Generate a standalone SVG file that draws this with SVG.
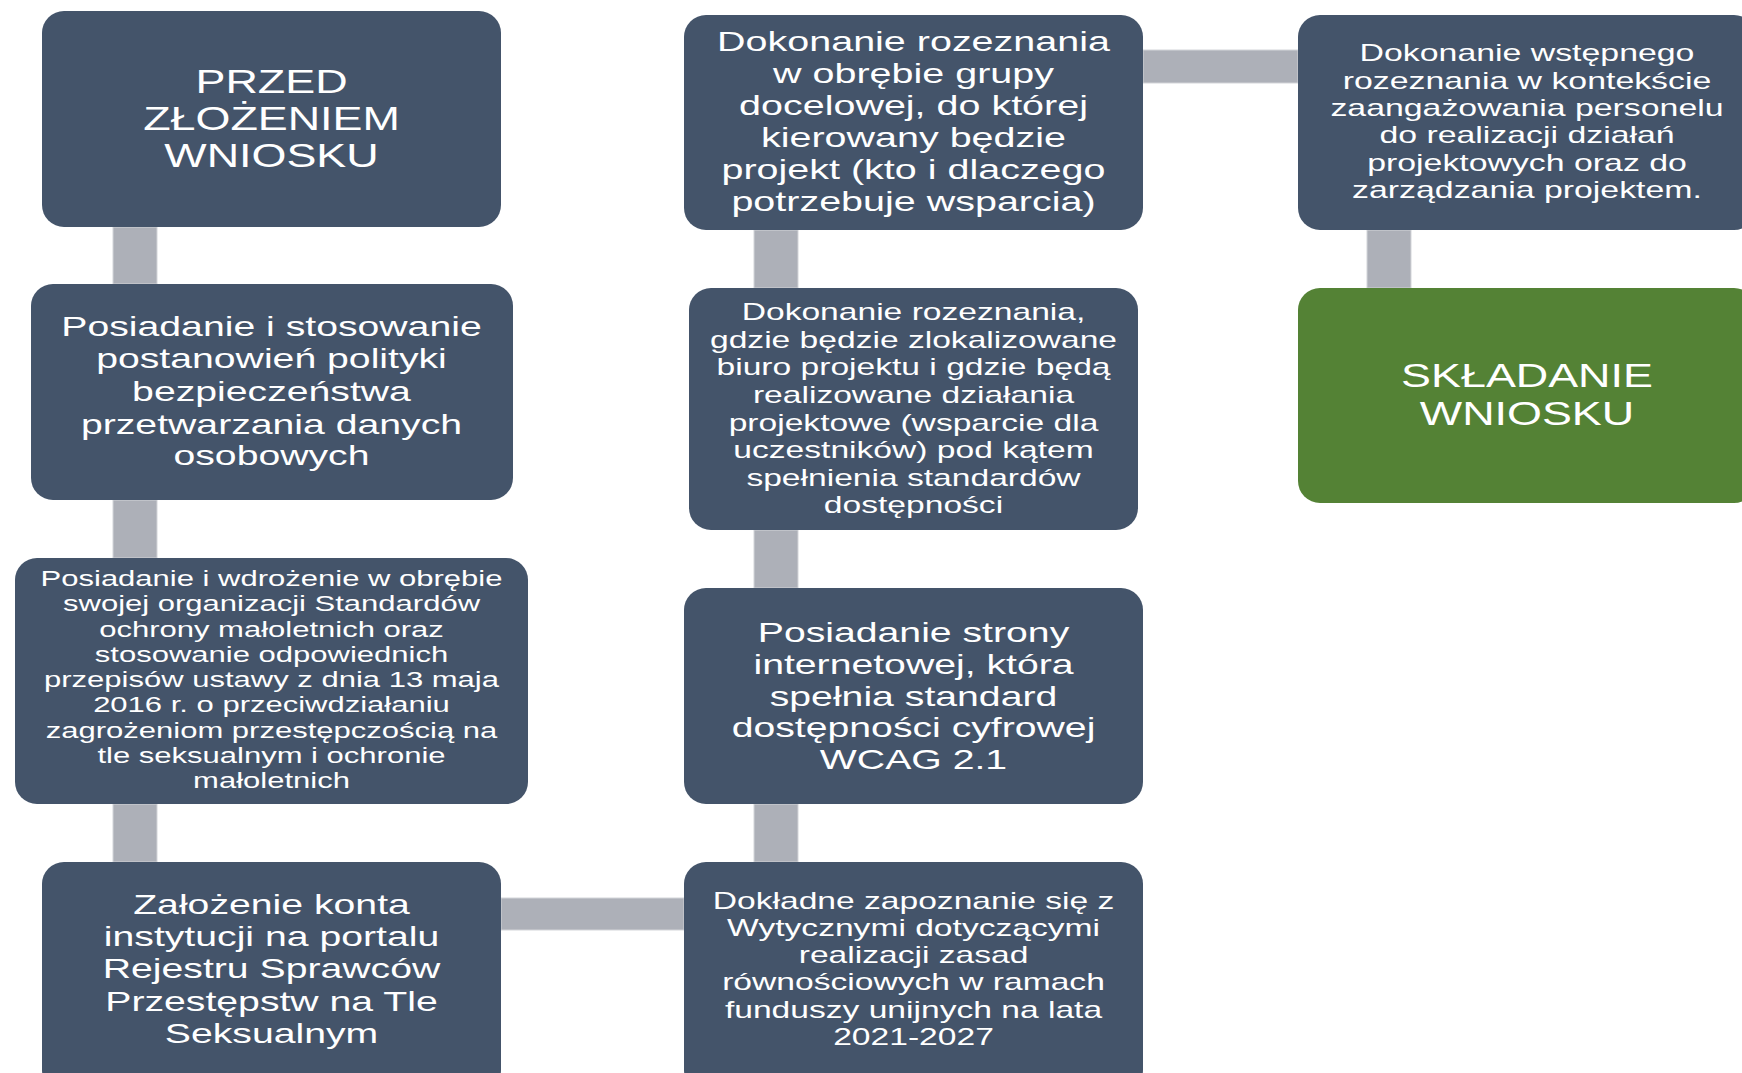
<svg xmlns="http://www.w3.org/2000/svg" width="1742" height="1073" viewBox="0 0 1742 1073">
<style>
.box{fill:#44546A;}
.green{fill:#548235;}
.con{fill:#ADB0B8;stroke:#D3D5D9;stroke-width:1;}
.t{fill:#FFFFFF;font-family:"Liberation Sans",Arial,sans-serif;text-anchor:middle;}
.f33{font-size:33px;}
.f28{font-size:28px;}
.f24{font-size:24px;}
.f22{font-size:22px;}
</style>
<rect width="1742" height="1073" fill="#FFFFFF"/>
<g id="connectors">
<rect class="con" x="113" y="227" width="44" height="57"/>
<rect class="con" x="113" y="500" width="44" height="58"/>
<rect class="con" x="113" y="804" width="44" height="58"/>
<rect class="con" x="501" y="898" width="183" height="32"/>
<rect class="con" x="754" y="230" width="44" height="58"/>
<rect class="con" x="754" y="530" width="44" height="58"/>
<rect class="con" x="754" y="804" width="44" height="58"/>
<rect class="con" x="1143" y="50" width="155" height="33"/>
<rect class="con" x="1367" y="230" width="44" height="58"/>
</g>
<g id="node-przed">
<rect class="box" x="42" y="11" width="459" height="216" rx="22"/>
<text class="t f33" transform="matrix(1.36 0 0 1 271.5 0)"><tspan x="0" y="93">PRZED</tspan><tspan x="0" y="130">ZŁOŻENIEM</tspan><tspan x="0" y="167">WNIOSKU</tspan></text>
</g>
<g id="node-polityka">
<rect class="box" x="31" y="284" width="482" height="216" rx="22"/>
<text class="t f28" transform="matrix(1.4 0 0 1 271.5 0)"><tspan x="0" y="335.7">Posiadanie i stosowanie</tspan><tspan x="0" y="368.5">postanowień polityki</tspan><tspan x="0" y="401.2">bezpieczeństwa</tspan><tspan x="0" y="433.9">przetwarzania danych</tspan><tspan x="0" y="465">osobowych</tspan></text>
</g>
<g id="node-standardy">
<rect class="box" x="15" y="558" width="513" height="246" rx="22"/>
<text class="t f22" transform="matrix(1.41 0 0 1 271.5 0)"><tspan x="0" y="586">Posiadanie i wdrożenie w obrębie</tspan><tspan x="0" y="611.3">swojej organizacji Standardów</tspan><tspan x="0" y="636.6">ochrony małoletnich oraz</tspan><tspan x="0" y="661.9">stosowanie odpowiednich</tspan><tspan x="0" y="687.2">przepisów ustawy z dnia 13 maja</tspan><tspan x="0" y="712.5">2016 r. o przeciwdziałaniu</tspan><tspan x="0" y="737.8">zagrożeniom przestępczością na</tspan><tspan x="0" y="763.1">tle seksualnym i ochronie</tspan><tspan x="0" y="788.4">małoletnich</tspan></text>
</g>
<g id="node-rejestr">
<rect class="box" x="42" y="862" width="459" height="230" rx="22"/>
<text class="t f28" transform="matrix(1.4 0 0 1 271.5 0)"><tspan x="0" y="914">Założenie konta</tspan><tspan x="0" y="946.2">instytucji na portalu</tspan><tspan x="0" y="978.4">Rejestru Sprawców</tspan><tspan x="0" y="1010.6">Przestępstw na Tle</tspan><tspan x="0" y="1042.8">Seksualnym</tspan></text>
</g>
<g id="node-grupa">
<rect class="box" x="684" y="15" width="459" height="215" rx="22"/>
<text class="t f28" transform="matrix(1.41 0 0 1 913.5 0)"><tspan x="0" y="51">Dokonanie rozeznania</tspan><tspan x="0" y="83">w obrębie grupy</tspan><tspan x="0" y="115">docelowej, do której</tspan><tspan x="0" y="147">kierowany będzie</tspan><tspan x="0" y="179">projekt (kto i dlaczego</tspan><tspan x="0" y="211">potrzebuje wsparcia)</tspan></text>
</g>
<g id="node-biuro">
<rect class="box" x="689" y="288" width="449" height="242" rx="22"/>
<text class="t f24" transform="matrix(1.4 0 0 1 913.5 0)"><tspan x="0" y="320.2">Dokonanie rozeznania,</tspan><tspan x="0" y="347.8">gdzie będzie zlokalizowane</tspan><tspan x="0" y="375.4">biuro projektu i gdzie będą</tspan><tspan x="0" y="403">realizowane działania</tspan><tspan x="0" y="430.6">projektowe (wsparcie dla</tspan><tspan x="0" y="458.2">uczestników) pod kątem</tspan><tspan x="0" y="485.8">spełnienia standardów</tspan><tspan x="0" y="513.4">dostępności</tspan></text>
</g>
<g id="node-strona">
<rect class="box" x="684" y="588" width="459" height="216" rx="22"/>
<text class="t f28" transform="matrix(1.4 0 0 1 913.5 0)"><tspan x="0" y="642">Posiadanie strony</tspan><tspan x="0" y="673.8">internetowej, która</tspan><tspan x="0" y="705.6">spełnia standard</tspan><tspan x="0" y="737.4">dostępności cyfrowej</tspan><tspan x="0" y="769.2">WCAG 2.1</tspan></text>
</g>
<g id="node-wytyczne">
<rect class="box" x="684" y="862" width="459" height="230" rx="22"/>
<text class="t f24" transform="matrix(1.4 0 0 1 913.5 0)"><tspan x="0" y="908.8">Dokładne zapoznanie się z</tspan><tspan x="0" y="936">Wytycznymi dotyczącymi</tspan><tspan x="0" y="963.2">realizacji zasad</tspan><tspan x="0" y="990.4">równościowych w ramach</tspan><tspan x="0" y="1017.6">funduszy unijnych na lata</tspan><tspan x="0" y="1044.8">2021-2027</tspan></text>
</g>
<g id="node-personel">
<rect class="box" x="1298" y="15" width="458" height="215" rx="22"/>
<text class="t f24" transform="matrix(1.41 0 0 1 1527 0)"><tspan x="0" y="61.3">Dokonanie wstępnego</tspan><tspan x="0" y="88.7">rozeznania w kontekście</tspan><tspan x="0" y="116.1">zaangażowania personelu</tspan><tspan x="0" y="143.5">do realizacji działań</tspan><tspan x="0" y="170.9">projektowych oraz do</tspan><tspan x="0" y="198.3">zarządzania projektem.</tspan></text>
</g>
<g id="node-skladanie">
<rect class="green" x="1298" y="288" width="458" height="215" rx="22"/>
<text class="t f33" transform="matrix(1.36 0 0 1 1527 0)"><tspan x="0" y="387.4">SKŁADANIE</tspan><tspan x="0" y="425.3">WNIOSKU</tspan></text>
</g>
</svg>
